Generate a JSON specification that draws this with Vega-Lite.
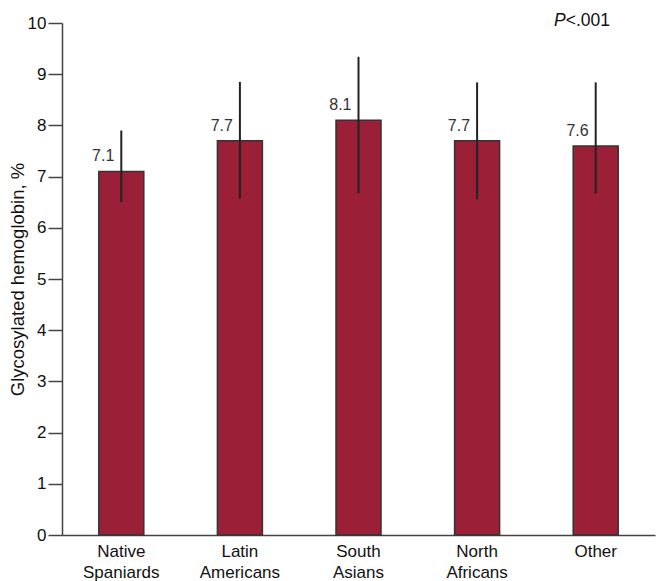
{
  "$schema": "https://vega.github.io/schema/vega-lite/v6.json",
  "autosize": "none",
  "width": 593,
  "height": 512,
  "padding": {"left": 62, "top": 23, "right": 1, "bottom": 46},
  "background": "white",
  "config": {
    "view": {"stroke": null},
    "font": "Liberation Sans",
    "axis": {"labelFont": "Liberation Sans", "titleFont": "Liberation Sans", "grid": false}
  },
  "data": {
    "values": [
      {"group": "Native Spaniards", "mean": 7.1, "low": 6.5, "high": 7.9},
      {"group": "Latin Americans", "mean": 7.7, "low": 6.57, "high": 8.85},
      {"group": "South Asians", "mean": 8.1, "low": 6.67, "high": 9.34},
      {"group": "North Africans", "mean": 7.7, "low": 6.56, "high": 8.84},
      {"group": "Other", "mean": 7.6, "low": 6.67, "high": 8.84}
    ]
  },
  "encoding": {
    "x": {
      "field": "group",
      "type": "nominal",
      "sort": null,
      "scale": {"paddingInner": 0, "paddingOuter": 0},
      "axis": {
        "title": null,
        "labelAngle": 0,
        "ticks": false,
        "labelPadding": 8,
        "labelFontSize": 17,
        "labelColor": "#111",
        "labelLineHeight": 21,
        "labelBaseline": "top",
        "labelExpr": "split(datum.label, ' ')",
        "domainColor": "#444",
        "domainWidth": 1.5
      }
    }
  },
  "layer": [
    {
      "mark": {"type": "bar", "size": 45, "color": "#9b1f37", "stroke": "#333", "strokeWidth": 1.5},
      "encoding": {
        "y": {
          "field": "mean",
          "type": "quantitative",
          "scale": {"domain": [0, 10], "nice": false},
          "axis": {
            "title": "Glycosylated hemoglobin, %",
            "titleFontSize": 18.5,
            "titleFontWeight": "normal",
            "titleColor": "#111",
            "titlePadding": 0,
            "values": [0, 1, 2, 3, 4, 5, 6, 7, 8, 9, 10],
            "tickSize": 14,
            "tickColor": "#444",
            "tickWidth": 1.5,
            "domainColor": "#444",
            "domainWidth": 1.5,
            "labelFontSize": 17,
            "labelColor": "#111",
            "labelPadding": 2
          }
        }
      }
    },
    {
      "mark": {"type": "rule", "color": "#222", "strokeWidth": 2},
      "encoding": {
        "y": {"field": "low", "type": "quantitative"},
        "y2": {"field": "high"}
      }
    },
    {
      "mark": {"type": "text", "align": "right", "baseline": "alphabetic", "dx": -7, "dy": -10, "fontSize": 16, "color": "#333"},
      "encoding": {
        "y": {"field": "mean", "type": "quantitative"},
        "text": {"field": "mean", "type": "quantitative", "format": ".1f"}
      }
    },
    {
      "data": {"values": [{"group": "Other", "y": 10, "p": "P", "rest": "<.001"}]},
      "layer": [
        {
          "mark": {"type": "text", "align": "right", "baseline": "alphabetic", "dx": -30, "dy": 3, "fontSize": 17.5, "fontStyle": "italic", "color": "#111"},
          "encoding": {
            "y": {"field": "y", "type": "quantitative"},
            "text": {"field": "p"}
          }
        },
        {
          "mark": {"type": "text", "align": "left", "baseline": "alphabetic", "dx": -30, "dy": 3, "fontSize": 17.5, "color": "#111"},
          "encoding": {
            "y": {"field": "y", "type": "quantitative"},
            "text": {"field": "rest"}
          }
        }
      ]
    }
  ]
}
